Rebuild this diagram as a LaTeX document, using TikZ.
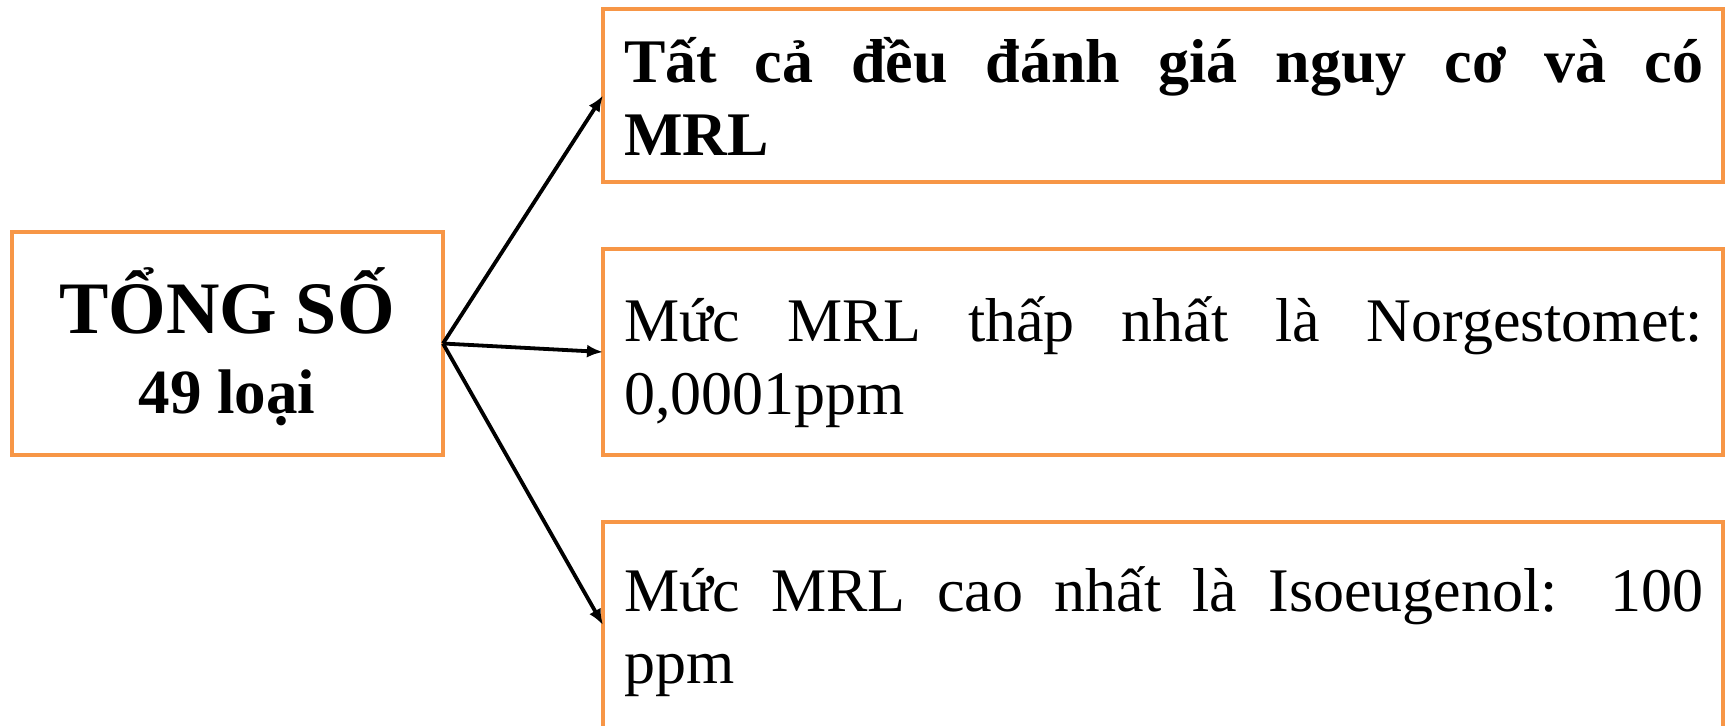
\documentclass[tikz,border=0pt]{standalone}
\usepackage{fontspec}
\setmainfont{Liberation Serif}
\usetikzlibrary{arrows.meta}
\definecolor{boxorange}{HTML}{F79646}
\begin{document}
\begin{tikzpicture}[x=0.5pt,y=-0.5pt,
  box/.style={draw=boxorange,line width=2pt,inner sep=0pt,outer sep=0pt,fill=white},
  link/.style={line width=1.9pt,-{Latex[length=8pt,width=6.5pt]}},
  txt/.style={inner sep=0pt,outer sep=0pt,anchor=base west},
  ctxt/.style={inner sep=0pt,outer sep=0pt,anchor=base}]
\useasboundingbox (0,0) rectangle (1727,725);
\clip (0,0) rectangle (1727,725);
% boxes
\node[box,minimum width=215.5pt,minimum height=111.5pt] (total) at (227.5,343.5) {};
\node[box,minimum width=560pt,minimum height=86.5pt] (top) at (1163,95.5) {};
\node[box,minimum width=560pt,minimum height=103pt] (mid) at (1163,352) {};
\node[box,minimum width=560pt,minimum height=103pt] (bot) at (1163,625) {};
% texts
\node[ctxt] (ts) at (227,333) {\fontsize{37}{44}\selectfont\bfseries TỔNG SỐ};
\node[ctxt] (nl) at (227,413) {\fontsize{31.5}{38}\selectfont\bfseries 49 loại};
\node[txt] (t1) at (624,82) {\parbox[t]{539.5pt}{\fontsize{31}{36.5}\selectfont\bfseries
  \makebox[\linewidth][s]{Tất cả đều đánh giá nguy cơ và có}\\MRL}};
\node[txt] (t2) at (624,341) {\parbox[t]{539.5pt}{\fontsize{31}{36.5}\selectfont
  \makebox[\linewidth][s]{Mức MRL thấp nhất là Norgestomet:}\\0,0001ppm}};
\node[txt] (t3) at (624,611) {\parbox[t]{539.5pt}{\fontsize{31}{36}\selectfont
  \makebox[\linewidth][s]{Mức MRL cao nhất là Isoeugenol: 100}\\ppm}};
% connectors
\draw[link] (total.east) -- (top.west);
\draw[link] (total.east) -- (mid.west);
\draw[link] (total.east) -- (bot.west);
\end{tikzpicture}
\end{document}
